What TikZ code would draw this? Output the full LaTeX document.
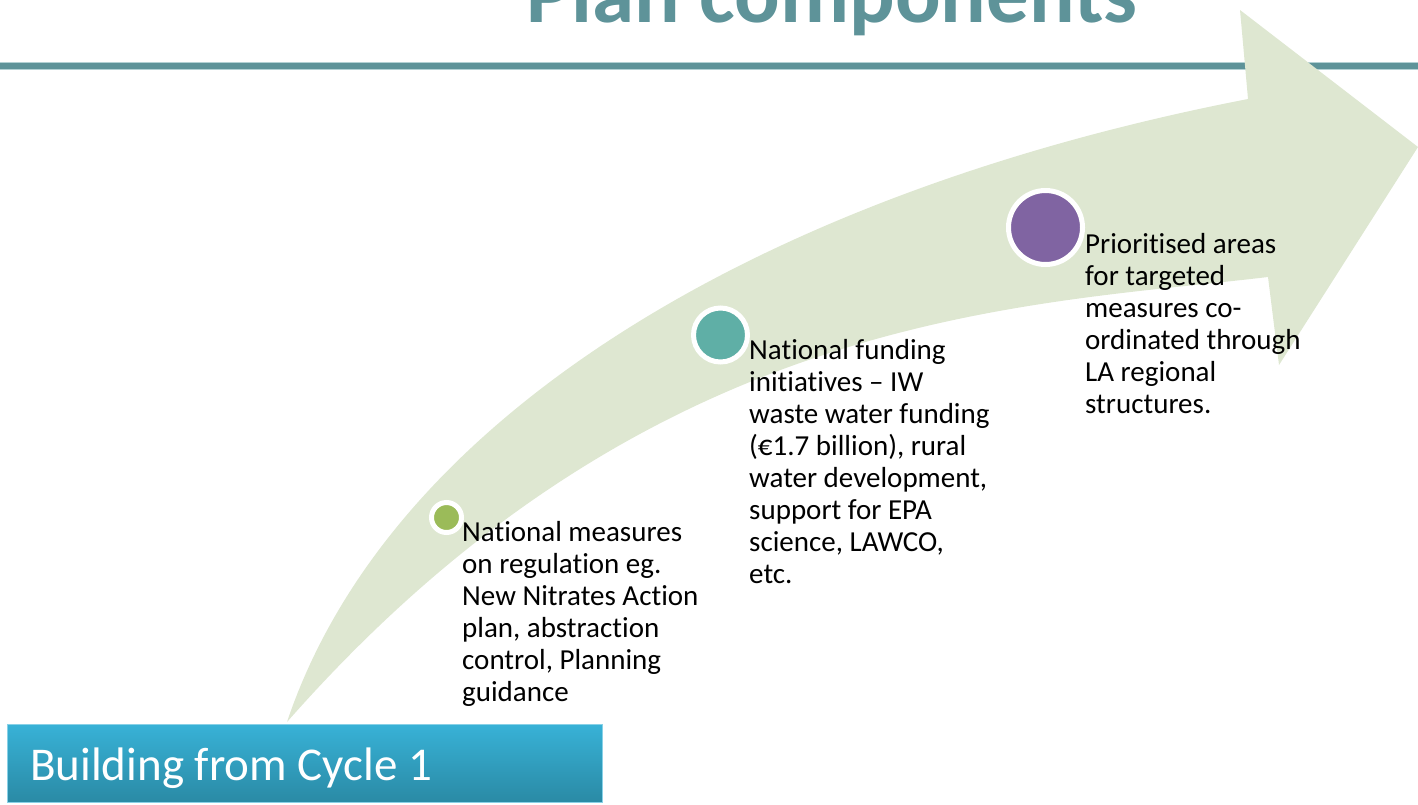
\documentclass[tikz,border=0pt]{standalone}
\usepackage{fontspec}
\setmainfont{Carlito}[RawFeature={-liga;-clig;-calt;-dlig}]
\usepackage{xcolor}

\definecolor{bandgreen}{HTML}{DEE7D1}
\definecolor{ruleteal}{HTML}{5E9399}
\definecolor{rulelight}{HTML}{B3D1D4}
\definecolor{dotgreen}{HTML}{9BBB59}
\definecolor{dotteal}{HTML}{5FAFA6}
\definecolor{dotpurple}{HTML}{8064A2}
\definecolor{boxtop}{HTML}{38B2D7}
\definecolor{boxbottom}{HTML}{2A8AA5}

\begin{document}
\begin{tikzpicture}[x=1pt,y=-1pt]
  \useasboundingbox (0,0) rectangle (1418,804);
  \tikzstyle{dot}=[circle,draw=white,line width=5pt,inner sep=0pt]
  \tikzstyle{blurb}=[anchor=north west,align=left,inner sep=0pt,font=\fontsize{29}{32}\selectfont]

  % title and rule
  \node[anchor=base,inner sep=0pt,text=ruleteal,font=\fontsize{85}{90}\selectfont\bfseries] (title) at (832,22) {Plan components};
  \draw[rulelight,line width=8pt] (0,66) -- (1418,66);
  \draw[ruleteal,line width=6pt] (0,66) -- (1418,66);

  % the big curved arrow
  \fill[bandgreen] (287,722) .. controls (389,418) and (758,194) .. (1248,99)
    -- (1240,10) -- (1418,147) -- (1279,365) -- (1268,277)
    .. controls (1020,306.5) and (650,309.5) .. (287,722) -- cycle;

  % steps
  \node[dot,fill=dotgreen,minimum size=30pt] (d1) at (446.5,517.5) {};
  \node[dot,fill=dotteal,minimum size=54pt] (d2) at (720.5,335) {};
  \node[dot,fill=dotpurple,minimum size=74pt] (d3) at (1045.5,227.5) {};

  \node[blurb] (t1) at (462,521.5) {National measures\\on regulation eg.\\New Nitrates Action\\plan, abstraction\\control, Planning\\guidance};
  \node[blurb] (t2) at (749,339.5) {National funding\\initiatives – IW\\waste water funding\\(€1.7 billion), rural\\water development,\\support for EPA\\science, LAWCO,\\etc.};
  \node[blurb] (t3) at (1085,233.5) {Prioritised areas\\for targeted\\measures co-\\ordinated through\\LA regional\\structures.};

  % bottom box
  \shade[top color=boxtop,bottom color=boxbottom,draw=boxtop!60!white,line width=1pt] (7,724) rectangle (602,802);
  \node[anchor=base west,inner sep=0pt,text=white,font=\fontsize{47}{50}\selectfont] (cycle) at (30,780) {Building from Cycle 1};
\end{tikzpicture}
\end{document}
